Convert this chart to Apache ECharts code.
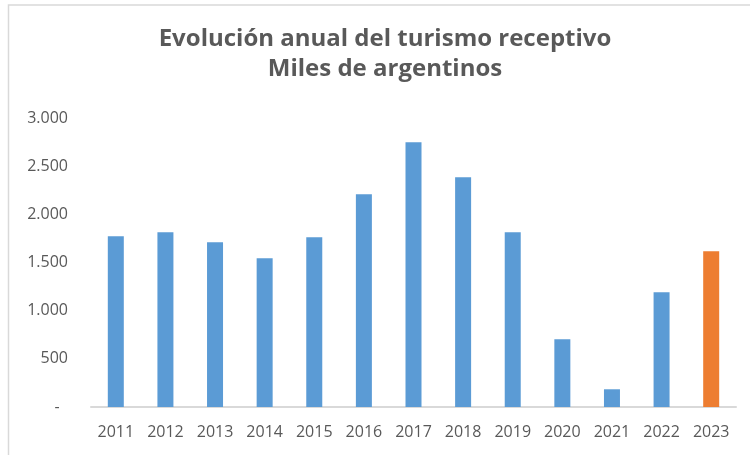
<!DOCTYPE html>
<html>
<head>
<meta charset="utf-8">
<script src="https://cdn.jsdelivr.net/npm/echarts@6/dist/echarts.min.js"></script>
<style>html,body{margin:0;padding:0;background:#fff}#c{width:750px;height:455px}</style>
</head>
<body>
<div id="c"></div>
<script>
const years = ['2011','2012','2013','2014','2015','2016','2017','2018','2019','2020','2021','2022','2023'];
const visitors = [1772, 1813, 1710, 1543, 1761, 2208, 2748, 2385, 1813, 703, 184, 1191, 1616];
const highlightYear = '2023';
const yTicks = [0, 500, 1000, 1500, 2000, 2500, 3000];
const titleText = 'Evolución anual del turismo receptivo\nMiles de argentinos';

const FONT = 'Open Sans';
const chart = echarts.init(document.getElementById('c'), null, {renderer: 'canvas'});
const barData = years.map((y, i) => ({
  value: visitors[i],
  itemStyle: {color: y === highlightYear ? '#ed7d31' : '#5b9bd5'}
}));
function fmt(v) {
  if (v === 0) return '-  ';
  return String(v).replace(/\B(?=(\d{3})+(?!\d))/g, '.');
}
chart.setOption({
  animation: false,
  backgroundColor: '#fff',
  title: {
    text: titleText,
    left: 385, top: 24, textAlign: 'center', padding: 0,
    textStyle: {fontFamily: FONT, fontWeight: 'bold', fontSize: 24, color: '#595959', lineHeight: 30}
  },
  graphic: [{
    type: 'rect', shape: {x: 8.5, y: 5, width: 800, height: 500},
    style: {fill: 'none', stroke: '#d9d9d9', lineWidth: 1.5}, silent: true
  }],
  grid: {left: 91, right: 14, top: 118, bottom: 48, containLabel: false},
  xAxis: {
    type: 'category', data: years,
    axisLine: {lineStyle: {color: '#d9d9d9', width: 2}},
    axisTick: {show: false},
    axisLabel: {fontFamily: FONT, fontSize: 16, color: '#595959', margin: 17}
  },
  yAxis: {
    type: 'value', min: yTicks[0], max: yTicks[yTicks.length - 1], interval: yTicks[1] - yTicks[0],
    axisLine: {show: false}, axisTick: {show: false}, splitLine: {show: false},
    axisLabel: {fontFamily: FONT, fontSize: 16, color: '#595959', margin: 23, formatter: fmt}
  },
  series: [{
    type: 'bar', data: barData, barWidth: 16
  }]
});
</script>
</body>
</html>
